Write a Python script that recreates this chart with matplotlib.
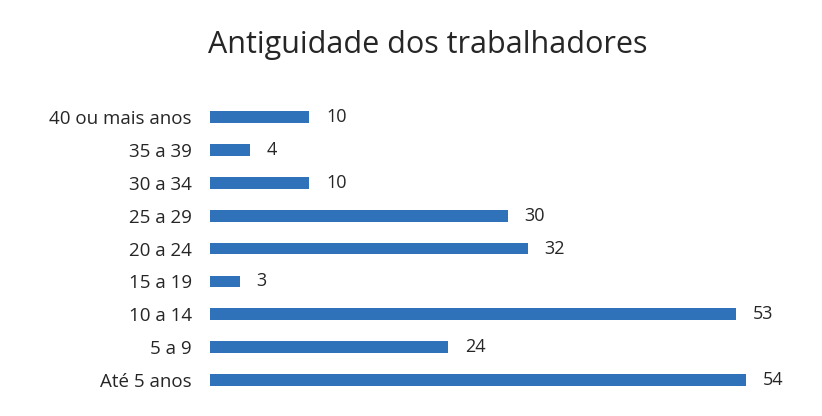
import matplotlib
matplotlib.use("Agg")
import matplotlib.pyplot as plt

categories = ["Até 5 anos", "5 a 9", "10 a 14", "15 a 19", "20 a 24",
              "25 a 29", "30 a 34", "35 a 39", "40 ou mais anos"]
values = [54, 24, 53, 3, 32, 30, 10, 4, 10]
title = "Antiguidade dos trabalhadores"

plt.rcParams['font.family'] = ['Open Sans', 'DejaVu Sans']

fig = plt.figure(figsize=(8.22, 4.16), dpi=100)
ax = fig.add_axes([0.2555, 0.047, 0.725, 0.711])
y = range(len(categories))
ax.barh(y, values, height=0.36, color="#2F72BA")
for yi, v in zip(y, values):
    ax.annotate(str(v), (v, yi), xytext=(12, 0), textcoords="offset points",
                va="center", ha="left", fontsize=13, color="#262626")
ax.set_yticks(list(y))
ax.set_yticklabels(categories, fontsize=13.5, color="#262626")
ax.tick_params(axis="y", length=0, pad=13)
ax.set_xticks([])
ax.set_xlim(0, 60)
ax.set_ylim(-0.5, len(categories) - 0.5)
for s in ax.spines.values():
    s.set_visible(False)
fig.text(0.52, 0.892, title, ha="center", va="center", fontsize=22, color="#262626")
fig.savefig("out.png", dpi=100)
